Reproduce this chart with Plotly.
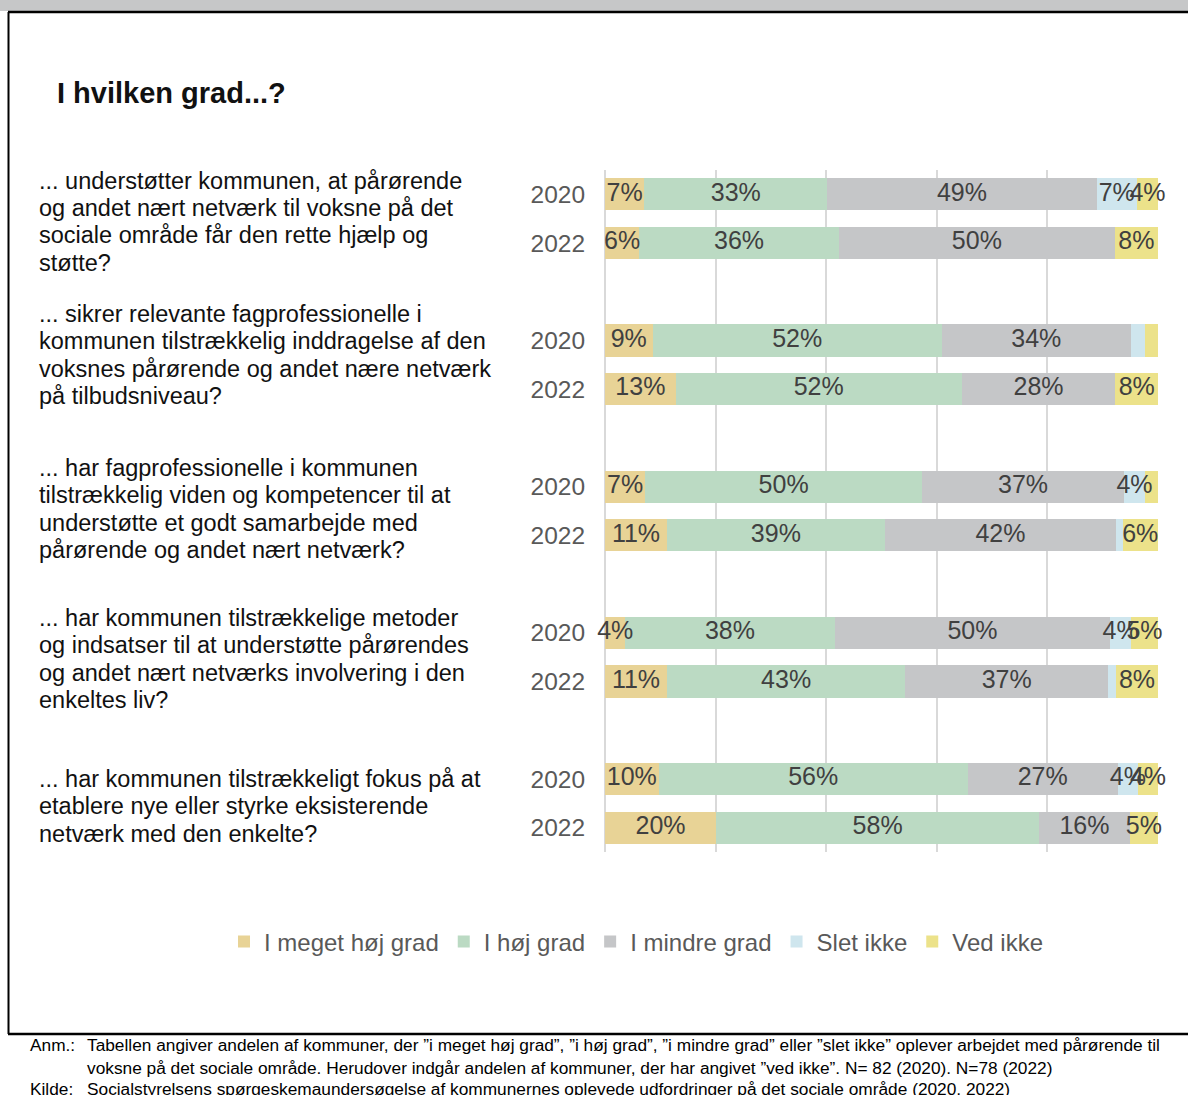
import plotly.graph_objects as go

# ---------------- data ----------------
questions = [
    "... understøtter kommunen, at pårørende<br>og andet nært netværk til voksne på det<br>sociale område får den rette hjælp og<br>støtte?",
    "... sikrer relevante fagprofessionelle i<br>kommunen tilstrækkelig inddragelse af den<br>voksnes pårørende og andet nære netværk<br>på tilbudsniveau?",
    "... har fagprofessionelle i kommunen<br>tilstrækkelig viden og kompetencer til at<br>understøtte et godt samarbejde med<br>pårørende og andet nært netværk?",
    "... har kommunen tilstrækkelige metoder<br>og indsatser til at understøtte pårørendes<br>og andet nært netværks involvering i den<br>enkeltes liv?",
    "... har kommunen tilstrækkeligt fokus på at<br>etablere nye eller styrke eksisterende<br>netværk med den enkelte?",
]
years = ["2020", "2022"]

series_names = ["I meget høj grad", "I høj grad", "I mindre grad", "Slet ikke", "Ved ikke"]
# values in percent, order: Q1-2020, Q1-2022, Q2-2020, Q2-2022, ...
meget_hoej = [7.1, 6.2, 8.6, 12.8, 7.3, 11.2, 3.7, 11.2, 9.7, 20.1]
hoej       = [33.1, 36.1, 52.3, 51.7, 50.0, 39.4, 37.8, 43.1, 55.9, 58.4]
mindre     = [48.7, 49.9, 34.2, 27.8, 36.6, 41.8, 49.9, 36.7, 27.1, 16.4]
slet_ikke  = [7.3, 0.0, 2.5, 0.0, 3.7, 1.2, 3.7, 1.4, 3.7, 0.0]
ved_ikke   = [3.8, 7.8, 2.4, 7.7, 2.4, 6.4, 4.9, 7.6, 3.6, 5.1]

x_ticks = [0, 20, 40, 60, 80, 100]

title_text = "<b>I hvilken grad...?</b>"
note_label = "Anm.:"
note_line1 = "Tabellen angiver andelen af kommuner, der ”i meget høj grad”, ”i høj grad”, ”i mindre grad” eller ”slet ikke” oplever arbejdet med pårørende til"
note_line2 = "voksne på det sociale område. Herudover indgår andelen af kommuner, der har angivet ”ved ikke”. N= 82 (2020). N=78 (2022)"
source_label = "Kilde:"
source_text = "Socialstyrelsens spørgeskemaundersøgelse af kommunernes oplevede udfordringer på det sociale område (2020, 2022)"

# ---------------- style ----------------
colors = ["#e8d396", "#bbdac3", "#c5c6c8", "#cfe6ee", "#ece28a"]
FONT = "Arial, Liberation Sans, sans-serif"
W_FIG, H_FIG = 1188, 1095
L, R, T, B = 605, 30, 170, 243
PW = W_FIG - L - R
PH = H_FIG - T - B
Q_LINE_GAP = 27.4
Q_NUDGE = [-3, 10, 2, -2, -3]   # small vertical nudges (px) of question blocks


def px(x):
    return (x - L) / PW


def py(y):
    return 1 - (y - T) / PH


# positions: each question -> 2 year slots + 1 blank slot
positions = []
tick_text = []
for g in range(len(questions)):
    for i, yr in enumerate(years):
        positions.append(g * 3 + i)
        tick_text.append(yr)
n_slots = len(questions) * 3 - 1

all_series = [meget_hoej, hoej, mindre, slet_ikke, ved_ikke]

fig = go.Figure()
for name, vals, col in zip(series_names, all_series, colors):
    fig.add_trace(go.Bar(
        name=name,
        y=positions,
        x=vals,
        orientation="h",
        width=0.66,
        marker=dict(color=col, line=dict(width=0)),
        hoverinfo="skip",
    ))

# value labels drawn on top of all bars (so overflowing labels stay visible)
base = [0.0] * len(positions)
for vals in all_series:
    mids = [b + v / 2 for b, v in zip(base, vals)]
    txt = [f"{round(v)}%" if v >= 3 else "" for v in vals]
    fig.add_trace(go.Scatter(
        x=mids, y=positions, mode="text", text=txt,
        textposition="middle center",
        textfont=dict(family=FONT, size=25, color="#404040"),
        cliponaxis=False, showlegend=False, hoverinfo="skip",
    ))
    base = [b + v for b, v in zip(base, vals)]

fig.update_layout(
    width=W_FIG, height=H_FIG,
    margin=dict(l=L, r=R, t=T, b=B),
    paper_bgcolor="white", plot_bgcolor="white",
    barmode="stack",
    bargap=0,
    font=dict(family=FONT, color="#595959"),
    showlegend=True,
    legend=dict(
        orientation="h",
        x=px(224), xanchor="left",
        y=py(942), yanchor="middle",
        font=dict(family=FONT, size=24, color="#595959"),
        bgcolor="rgba(0,0,0,0)",
        itemwidth=30,
        traceorder="normal",
    ),
)

fig.update_xaxes(
    range=[0, 100],
    tickvals=x_ticks,
    showticklabels=False,
    showgrid=True, gridcolor="#d9d9d9", gridwidth=2,
    zeroline=True, zerolinecolor="#d9d9d9", zerolinewidth=2,
    showline=False,
    fixedrange=True,
)
fig.update_yaxes(
    range=[n_slots - 0.5, -0.5],
    tickvals=positions,
    ticktext=tick_text,
    tickfont=dict(family=FONT, size=24.5, color="#595959"),
    ticks="outside", ticklen=14, tickcolor="rgba(0,0,0,0)",
    showgrid=False, zeroline=False, showline=False,
    fixedrange=True,
)

annotations = []
# question labels, one annotation per line for tight line spacing
for g, q in enumerate(questions):
    lines = q.split("<br>")
    n = len(lines)
    for k, line in enumerate(lines):
        annotations.append(dict(
            text=line, xref="paper", yref="y",
            x=px(37), y=g * 3 + 0.5,
            yshift=-(k - (n - 1) / 2) * Q_LINE_GAP + Q_NUDGE[g],
            xanchor="left", yanchor="middle", align="left",
            showarrow=False,
            font=dict(family=FONT, size=23.5, color="#111111"),
        ))
# title
annotations.append(dict(
    text=title_text, xref="paper", yref="paper",
    x=px(55), y=py(93), xanchor="left", yanchor="middle",
    showarrow=False, font=dict(family=FONT, size=29, color="#111111"),
))
# footnotes
foot_font = dict(family=FONT, size=17.3, color="#000000")
for txt, xx, yy in [
    (note_label, 28, 1045), (note_line1, 85, 1045), (note_line2, 85, 1068),
    (source_label, 28, 1089), (source_text, 85, 1089),
]:
    annotations.append(dict(
        text=txt, xref="paper", yref="paper",
        x=px(xx), y=py(yy), xanchor="left", yanchor="middle",
        showarrow=False, font=foot_font,
    ))
fig.update_layout(annotations=annotations)

# frame shapes
shapes = [
    dict(type="rect", xref="paper", yref="paper",
         x0=px(0), x1=px(W_FIG), y0=py(0), y1=py(11),
         fillcolor="#c6c7c8", line=dict(width=0), layer="below"),
    dict(type="line", xref="paper", yref="paper",
         x0=px(8), x1=px(W_FIG), y0=py(12), y1=py(12),
         line=dict(color="black", width=2.5)),
    dict(type="line", xref="paper", yref="paper",
         x0=px(8.5), x1=px(8.5), y0=py(12), y1=py(1034),
         line=dict(color="black", width=2)),
    dict(type="line", xref="paper", yref="paper",
         x0=px(8), x1=px(W_FIG), y0=py(1034), y1=py(1034),
         line=dict(color="black", width=2.5)),
]
fig.update_layout(shapes=shapes)

fig.write_html(
    "out.html",
    config={"displayModeBar": False},
    post_script="document.body.style.margin='0px';document.body.style.overflow='hidden';",
)
